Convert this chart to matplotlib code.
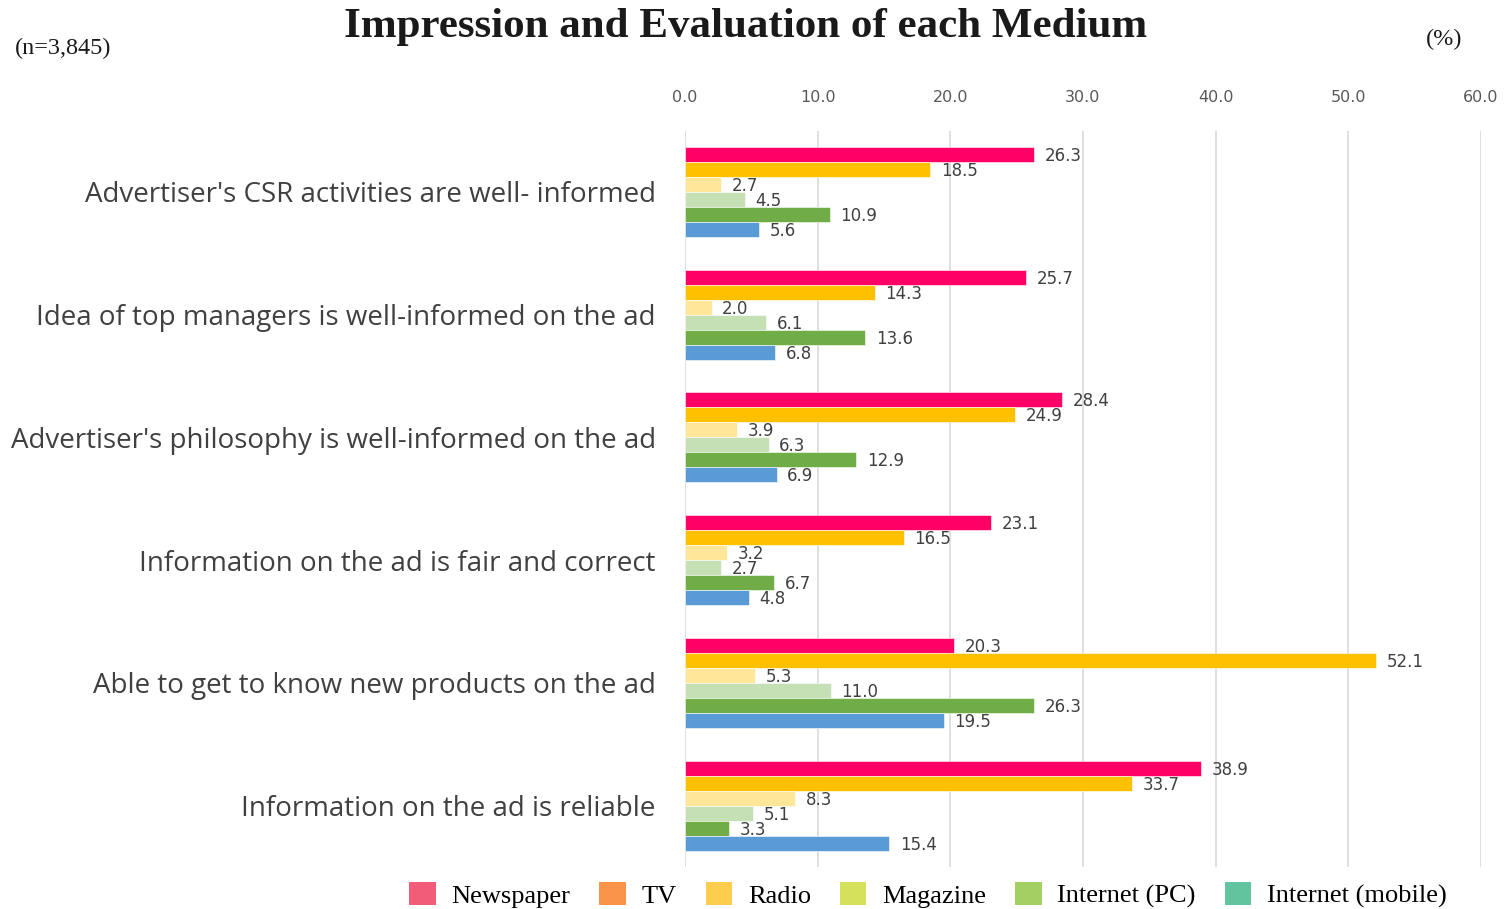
import matplotlib
matplotlib.use("Agg")
import matplotlib.pyplot as plt
from matplotlib.patches import Patch
import numpy as np

categories = [
    "Advertiser's CSR activities are well- informed",
    "Idea of top managers is well-informed on the ad",
    "Advertiser's philosophy is well-informed on the ad",
    "Information on the ad is fair and correct",
    "Able to get to know new products on the ad",
    "Information on the ad is reliable",
]
series_names = ["Newspaper", "TV", "Radio", "Magazine", "Internet (PC)", "Internet (mobile)"]
newspaper = [26.3, 25.7, 28.4, 23.1, 20.3, 38.9]
tv = [18.5, 14.3, 24.9, 16.5, 52.1, 33.7]
radio = [2.7, 2.0, 3.9, 3.2, 5.3, 8.3]
magazine = [4.5, 6.1, 6.3, 2.7, 11.0, 5.1]
internet_pc = [10.9, 13.6, 12.9, 6.7, 26.3, 3.3]
internet_mobile = [5.6, 6.8, 6.9, 4.8, 19.5, 15.4]
series = [newspaper, tv, radio, magazine, internet_pc, internet_mobile]
x_ticks = [0, 10, 20, 30, 40, 50, 60]

bar_colors = ["#FF0066", "#FFC000", "#FFE699", "#C5E0B4", "#70AD47", "#5B9BD5"]
legend_colors = ["#F25C78", "#F9944A", "#FFCD4E", "#D5E05B", "#A2D063", "#62C39F"]

fig = plt.figure(figsize=(15.06, 9.09), dpi=100)
ax = fig.add_axes([685/1506, 1-867/909, (1481-685)/1506, (867-130.5)/909])

bh = 0.122
n = len(series)
for i, (vals, col) in enumerate(zip(series, bar_colors)):
    ys = np.arange(len(categories)) + 0.5 + (i - (n - 1) / 2) * bh
    ax.barh(ys, vals, height=bh, color=col, edgecolor="white", linewidth=0.4, zorder=3)
    for y, v in zip(ys, vals):
        ax.text(v + 0.8, y + 0.012, f"{v:.1f}", va="center", ha="left", fontsize=12,
                color="#404040", family="DejaVu Sans", zorder=4)

ax.set_xlim(0, 60)
ax.set_ylim(len(categories), 0)
ax.set_xticks(x_ticks)
ax.set_xticklabels([f"{t:.1f}" for t in x_ticks], fontsize=11.5, color="#595959")
ax.xaxis.tick_top()
ax.tick_params(axis="x", length=0, pad=18)
ax.set_yticks(np.arange(len(categories)) + 0.5)
ax.set_yticklabels(categories, fontsize=20, family="Open Sans", color="#404040")
ax.tick_params(axis="y", length=0, pad=21)
ax.grid(axis="x", color="#D9D9D9", linewidth=1.2, zorder=0)
for s in ax.spines.values():
    s.set_visible(False)

fig.text(746/1506, 1-27/909, "Impression and Evaluation of each Medium", ha="center", va="center",
         fontsize=31, fontweight="bold", family="Liberation Serif", color="#1a1a1a")
fig.text(15/1506, 1-48/909, "(n=3,845)", ha="left", va="center", fontsize=17.5,
         family="Liberation Serif", color="#1a1a1a")
fig.text(1462/1506, 1-39/909, "(%)", ha="right", va="center", fontsize=17.5,
         family="Liberation Serif", color="#1a1a1a")

handles = [Patch(facecolor=c, edgecolor="none") for c in legend_colors]
fig.legend(handles, series_names, loc="center", bbox_to_anchor=(928/1506, 1-895/909), ncol=6,
           frameon=False, prop={"family": "Liberation Serif", "size": 19}, handlelength=1.0,
           handleheight=1.0, handletextpad=0.6, columnspacing=1.1)

fig.savefig("out.png", dpi=100)
